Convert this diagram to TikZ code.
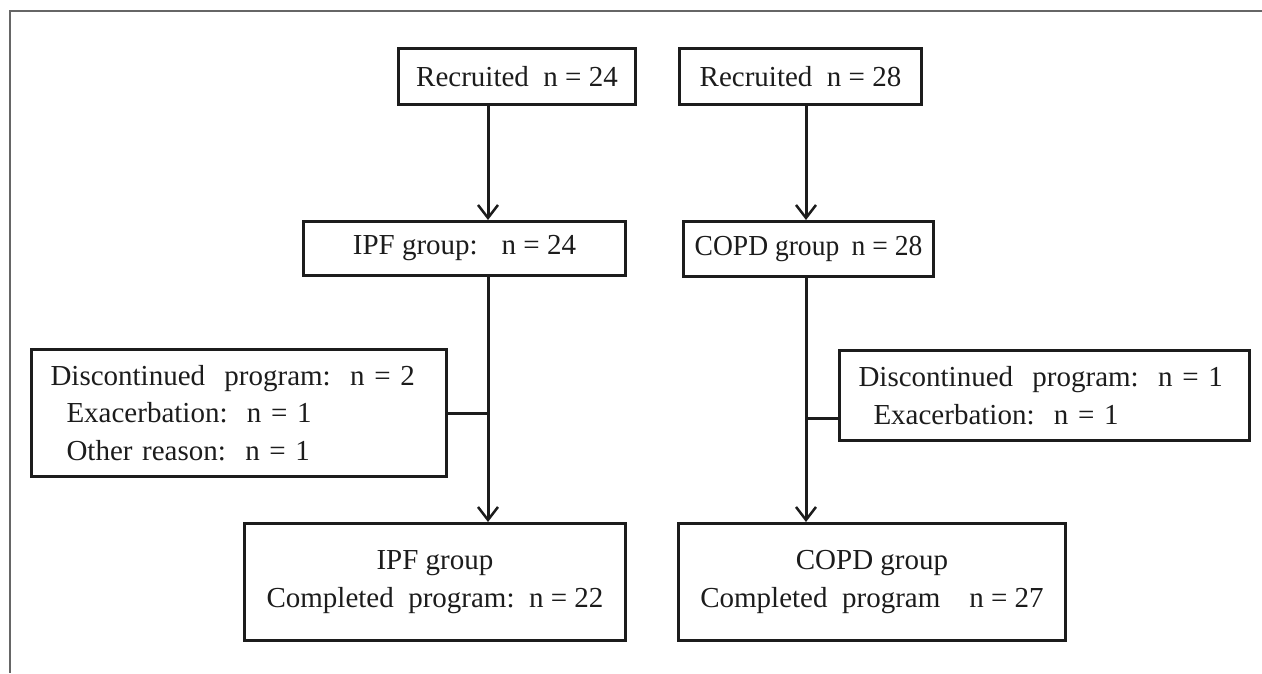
\documentclass[tikz,border=0pt]{standalone}
\usepackage{graphicx}
\usepackage{fontspec}
\setmainfont{Liberation Serif}
\usetikzlibrary{arrows.meta}
\definecolor{ink}{HTML}{1C1C1C}
\definecolor{framegray}{HTML}{666666}
\begin{document}
\begin{tikzpicture}[x=1pt,y=-1pt,
  box/.style={draw=ink, line width=3pt, inner sep=0pt, text=ink,
    font=\fontsize{29}{37.5}\selectfont},
  sidebox/.style={box, inner xsep=19pt, align=left},
  arr/.style={draw=ink, line width=3pt, -{Straight Barb[length=13pt,width=20pt,line width=2.5pt]}},
  link/.style={draw=ink, line width=3pt},
  framestyle/.style={draw=framegray, line width=1.5pt}]
\useasboundingbox (0,0) rectangle (1262,673);
\draw[framestyle] (1262,11) -- (10,11) -- (10,673);

\node[box, minimum width=237pt, minimum height=56pt] (r1) at (517,76.5) {Recruited~~n = 24};
\node[box, minimum width=242pt, minimum height=56pt] (r2) at (800.5,76.5) {Recruited~~n = 28};
\node[box, minimum width=322pt, minimum height=54pt] (ipf) at (464.5,248.5) {IPF group:\hspace{24pt}n = 24};
\node[box, minimum width=250pt, minimum height=55pt] (copd) at (808.5,249) {\scalebox{0.95}[1]{COPD group\hspace{13pt}n = 28}};
\node[sidebox, text width=377pt, minimum height=127pt] (dl) at (239,413)
  {Discontinued~~program:~~n = 2\\\hspace*{16pt}Exacerbation:~~n = 1\\\hspace*{16pt}Other reason:~~n = 1};
\node[sidebox, text width=372pt, minimum height=90pt] (dr) at (1044.5,395.5)
  {Discontinued~~program:~~n = 1\\\hspace*{15pt}Exacerbation:~~n = 1};
\node[box, align=center, minimum width=381pt, minimum height=117pt] (bl) at (435,582)
  {IPF group\\Completed~~program:~~n = 22};
\node[box, align=center, minimum width=387pt, minimum height=117pt] (br) at (872,582)
  {COPD group\\Completed~~program~~~~n = 27};

\coordinate (colL) at (488,0);
\coordinate (colR) at (806,0);
\coordinate (bR) at (806,418);

\draw[arr] (r1.south -| colL) -- (ipf.north -| colL);
\draw[arr] (ipf.south -| colL) -- (bl.north -| colL);
\draw[arr] (r2.south -| colR) -- (copd.north -| colR);
\draw[arr] (copd.south -| colR) -- (br.north -| colR);
\draw[link] (dl.east) -- (dl.east -| colL);
\draw[link] (bR) -- (bR -| dr.west);
\end{tikzpicture}
\end{document}
